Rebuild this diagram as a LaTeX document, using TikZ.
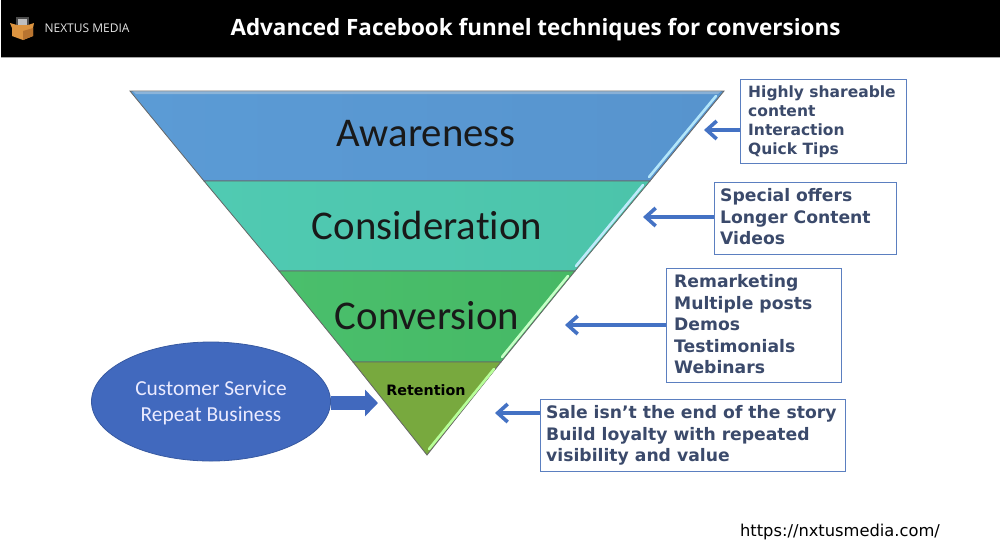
\documentclass[tikz,border=0pt]{standalone}
\usepackage{fontspec}
\setmainfont{Carlito}[Ligatures=NoCommon]
\newfontfamily\boxfont{DejaVu Sans}
\newfontfamily\titlefont{Open Sans}
\newfontfamily\urlfont{DejaVu Sans}
\usetikzlibrary{arrows.meta,shapes.geometric}
\definecolor{navytext}{HTML}{3B4A6B}
\definecolor{boxedge}{HTML}{5B7FC0}
\definecolor{arrowblue}{HTML}{4472C4}
\definecolor{ovalblue}{HTML}{4169BE}
\definecolor{lvla}{HTML}{5B9BD5}
\definecolor{lvlaa}{HTML}{5794CE}
\definecolor{lvlb}{HTML}{50CAB2}
\definecolor{lvlbb}{HTML}{4CC4AA}
\definecolor{lvlc}{HTML}{4ABF6C}
\definecolor{lvlcc}{HTML}{46B965}
\definecolor{lvld}{HTML}{78A93E}
\definecolor{boxtan}{HTML}{DC9440}
\definecolor{boxtandark}{HTML}{B87430}
\tikzset{
  x=1pt,y=-1pt,
  level/.style={draw=black!60,line width=0.8pt,line join=miter},
  shine/.style={line width=2.6pt,line cap=round},
  lvltext/.style={font=\fontsize{40.8}{42}\selectfont,text=black!90,inner sep=0pt},
  frame/.style={draw=boxedge,line width=1pt,inner sep=0pt},
  info/.style={align=left,text=navytext,anchor=north west,inner sep=0pt,
    font=\boxfont\bfseries\fontsize{17.2}{21.5}\selectfont},
  pointer/.style={draw=arrowblue,line width=3.6pt,-{Straight Barb[length=10pt,width=18pt,line width=3.6pt]}},
}
\begin{document}
\begin{tikzpicture}
\useasboundingbox (0,0) rectangle (1000,550);
\fill[white] (0,0) rectangle (1000,550);
\fill[black] (1,0) rectangle (1000,57);
\draw[black!35,line width=0.8pt] (1,57.5) -- (1000,57.5);
% logo
\fill[black!70] (16,17) rectangle (29,25);
\fill[white!75!black] (18,19) rectangle (27,25);
\fill[boxtan] (10,23) -- (17,25) -- (28,25) -- (34,23) -- (33,28) -- (33,36) -- (23,40) -- (12,36) -- (12,28) -- cycle;
\fill[boxtandark] (23,31) -- (33,28) -- (33,36) -- (23,40) -- cycle;
\node[text=white!90!black,font=\fontsize{12}{14}\selectfont,inner sep=0pt] (brand) at (87,28) {\fontspec{Open Sans}NEXTUS MEDIA};
\node[text=white,font=\titlefont\bfseries\fontsize{22.45}{26}\selectfont,inner sep=0pt] (title) at (535.5,30) {Advanced Facebook funnel techniques for conversions};
% funnel
\path[level,left color=lvla,right color=lvlaa] (130,91) -- (724,91) -- (650,181) -- (204,181) -- cycle;
\path[level,left color=lvlb,right color=lvlbb] (204,181) -- (650,181) -- (575,271) -- (279,271) -- cycle;
\path[level,left color=lvlc,right color=lvlcc] (279,271) -- (575,271) -- (501,362) -- (353,362) -- cycle;
\path[level,fill=lvld] (353,362) -- (501,362) -- (427,455) -- cycle;
\draw[shine,draw=cyan!30] (716,96) -- (649,177);
\draw[shine,draw=cyan!25] (643,185) -- (576,266);
\draw[shine,draw=green!22] (568,276) -- (502,357);
\draw[shine,draw=green!70!yellow!40] (494,369) -- (429,449);
\fill[black!10,opacity=.35] (133,91) -- (721,91) -- (718,94) -- (136,94) -- cycle;
\node[lvltext] (aware) at (426,134) {Awareness};
\node[lvltext] (consid) at (427,225) {Consideration};
\node[lvltext] (conver) at (427,316) {Conversion};
\node[inner sep=0pt,font=\boxfont\bfseries\fontsize{14.3}{15}\selectfont,text=black] (reten) at (426,390) {Retention};
% info boxes
\node[frame,minimum width=166pt,minimum height=84pt] (b1) at (823.5,121) {};
\node[info,font=\boxfont\bfseries\fontsize{15.5}{19}\selectfont] (t1) at (748,85.5) {Highly shareable\\content\\Interaction\\Quick Tips};
\node[frame,minimum width=182pt,minimum height=72pt] (b2) at (805,218) {};
\node[info] (t2) at (720,188.5) {Special offers\\Longer Content\\Videos};
\node[frame,minimum width=175pt,minimum height=114pt] (b3) at (754,325) {};
\node[info] (t3) at (674,274.5) {Remarketing\\Multiple posts\\Demos\\Testimonials\\Webinars};
\node[frame,minimum width=305pt,minimum height=72pt] (b4) at (692.5,435.5) {};
\node[info] (t4) at (546,405.5) {Sale isn’t the end of the story\\Build loyalty with repeated\\visibility and value};
% arrows
\coordinate (p1) at (704,130);
\coordinate (p2) at (643,217);
\coordinate (p3) at (565,325);
\coordinate (p4) at (495,413);
\coordinate (p5) at (378,403);
\draw[pointer] (b1.west |- p1) -- (p1);
\draw[pointer] (b2.west |- p2) -- (p2);
\draw[pointer] (b3.west |- p3) -- (p3);
\draw[pointer] (b4.west |- p4) -- (p4);
% oval
\node[ellipse,fill=ovalblue,draw=ovalblue!85!black,line width=.8pt,minimum width=239pt,minimum height=119pt,inner sep=0pt] (oval) at (211,401.5) {};
\node[inner sep=0pt,align=center,text=white!92!blue,font=\fontsize{21.4}{26}\selectfont] (ovaltext) at (211,403) {Customer Service\\Repeat Business};
\draw[draw=ovalblue,line width=14pt,-{Triangle[length=13pt,width=26pt]}] (oval.east |- p5) -- (p5);
\node[inner sep=0pt,font=\urlfont\fontsize{16.3}{18}\selectfont,text=black] (url) at (840,532) {https://nxtusmedia.com/};
\end{tikzpicture}
\end{document}
